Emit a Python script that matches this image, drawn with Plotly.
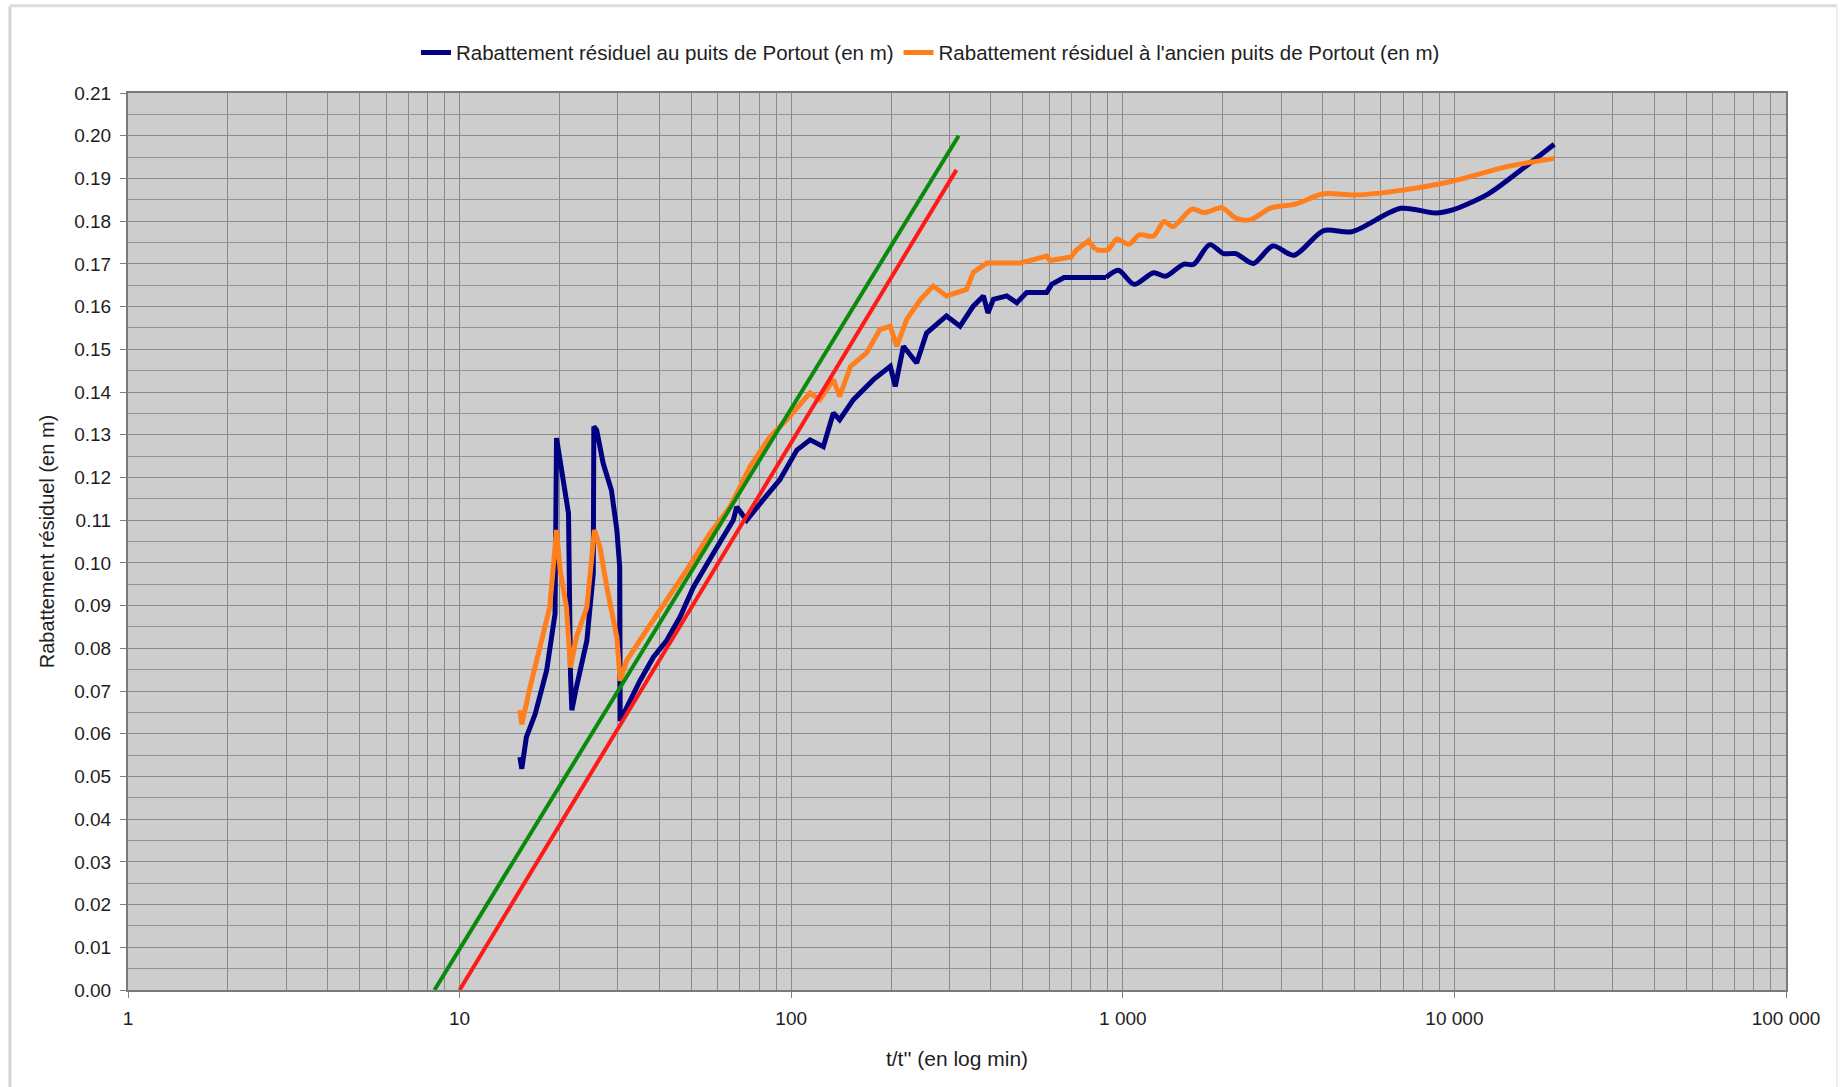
import plotly.graph_objects as go

# ---- data ----
blue_t = [15.2, 15.4, 15.9, 16.9, 18.3, 19.4, 19.6, 20.5, 21.3, 21.6, 21.8, 22.5, 24.2, 25.3, 25.4,
          25.9, 27.1, 28.7, 29.8, 30.4, 30.5, 31.9, 35.0, 38.4, 42.1, 46.2, 50.7, 58.2, 66.9, 68.5,
          73.4, 84.4, 92.5, 104, 114, 125, 134, 140, 154, 177, 199, 206, 218, 239, 256, 294, 323,
          354, 380, 392, 407, 447, 479, 513, 589, 610, 665, 890, 970, 1082, 1238, 1347, 1522, 1637,
          1827, 2014, 2193, 2476, 2833, 3280, 4032, 4900, 6887, 8780, 9930, 12660, 15770, 20000]
blue_v = [0.0545, 0.0518, 0.0592, 0.0646, 0.0748, 0.0881, 0.1292, 0.1202, 0.1116, 0.0740, 0.0655,
          0.0708, 0.0818, 0.0975, 0.1319, 0.1311, 0.1233, 0.1170, 0.1077, 0.0990, 0.0630, 0.0661,
          0.0724, 0.0779, 0.0818, 0.0873, 0.0943, 0.1022, 0.1100, 0.1131, 0.1100, 0.1158, 0.1195,
          0.1264, 0.1288, 0.1272, 0.1351, 0.1335, 0.1382, 0.1429, 0.1460, 0.1413, 0.1507, 0.1468,
          0.1538, 0.1578, 0.1554, 0.1601, 0.1625, 0.1585, 0.1617, 0.1625, 0.1609, 0.1633, 0.1633,
          0.1652, 0.1668, 0.1668, 0.1685, 0.1652, 0.1679, 0.1671, 0.1699, 0.1699, 0.1745, 0.1724,
          0.1724, 0.1701, 0.1742, 0.1720, 0.1778, 0.1775, 0.1830, 0.1819, 0.1827, 0.1864, 0.1918,
          0.1980]

orange_t = [15.2, 15.4, 16.3, 17.5, 18.7, 19.6, 20.1, 21.0, 21.6, 22.5, 24.2, 25.5, 26.5, 27.8,
            29.8, 30.5, 31.9, 36.6, 42.1, 48.4, 56.9, 65.4, 75.1, 86.3, 96.9, 114, 122, 134, 140,
            151, 169, 185, 199, 208, 223, 245, 268, 294, 338, 354, 389, 426, 490, 537, 589, 603,
            698, 726, 788, 828, 902, 958, 1043, 1122, 1238, 1331, 1415, 1617, 1762, 1990, 2193,
            2417, 2800, 3318, 4032, 5020, 6887, 9930, 14300, 20000]
orange_v = [0.0655, 0.0622, 0.0708, 0.0803, 0.0896, 0.1077, 0.0983, 0.0896, 0.0755, 0.0826,
            0.0896, 0.1077, 0.1037, 0.0943, 0.0826, 0.0724, 0.0771, 0.0842, 0.0912, 0.0983,
            0.1069, 0.1131, 0.1225, 0.1295, 0.1335, 0.1398, 0.1382, 0.1429, 0.1390, 0.1460,
            0.1492, 0.1546, 0.1554, 0.1507, 0.1570, 0.1616, 0.1648, 0.1625, 0.1640, 0.1680,
            0.1702, 0.1702, 0.1702, 0.1710, 0.1718, 0.1708, 0.1716, 0.1733, 0.1754, 0.1733,
            0.1733, 0.1758, 0.1746, 0.1768, 0.1765, 0.1799, 0.1787, 0.1828, 0.1820, 0.1831,
            0.1807, 0.1803, 0.1831, 0.1840, 0.1864, 0.1861, 0.1872, 0.1894, 0.1927, 0.1947]

green_t = [8.4, 320]
green_v = [0.0, 0.200]
red_t = [10.0, 315]
red_v = [0.0, 0.192]

x_tick_vals = [1, 10, 100, 1000, 10000, 100000]
x_tick_text = ["1", "10", "100", "1 000", "10 000", "100 000"]
x_minor_vals = [m * d for d in [1, 10, 100, 1000, 10000] for m in range(2, 10)]

name_blue = "Rabattement résiduel au puits de Portout (en m)"
name_orange = "Rabattement résiduel à l'ancien puits de Portout (en m)"

SMOOTH_FROM = 900  # the late part of both curves is drawn smoothed, as in the reference

FONT = "Liberation Sans, Arial, sans-serif"
TXT = "#1e1e1e"
BLUE = "#000080"
ORANGE = "#ff7f1f"


def split(ts, vs, cut):
    a = [(t, v) for t, v in zip(ts, vs) if t <= cut]
    b = [(t, v) for t, v in zip(ts, vs) if t >= a[-1][0]]
    return [p[0] for p in a], [p[1] for p in a], [p[0] for p in b], [p[1] for p in b]


fig = go.Figure()
for ts, vs, name, col, grp in [(blue_t, blue_v, name_blue, BLUE, "b"),
                               (orange_t, orange_v, name_orange, ORANGE, "o")]:
    t1, v1, t2, v2 = split(ts, vs, SMOOTH_FROM)
    fig.add_trace(go.Scatter(x=t1, y=v1, mode="lines", name=name, legendgroup=grp,
                             line=dict(color=col, width=5)))
    fig.add_trace(go.Scatter(x=t2, y=v2, mode="lines", name=name, legendgroup=grp,
                             showlegend=False,
                             line=dict(color=col, width=5, shape="spline", smoothing=0.8)))

fig.add_trace(go.Scatter(x=green_t, y=green_v, mode="lines", showlegend=False,
                         line=dict(color="#0a8a0a", width=4)))
fig.add_trace(go.Scatter(x=red_t, y=red_v, mode="lines", showlegend=False,
                         line=dict(color="#ff1a1a", width=4)))

fig.update_layout(
    width=1842, height=1087,
    margin=dict(l=128, r=56, t=93, b=97),
    paper_bgcolor="white",
    plot_bgcolor="#cdcdcd",
    font=dict(family=FONT, size=19, color=TXT),
    legend=dict(orientation="h", x=0.484, xanchor="center", y=1.045, yanchor="middle",
                font=dict(size=20.5, color=TXT), bgcolor="rgba(0,0,0,0)"),
    showlegend=True,
)
fig.update_xaxes(
    type="log", range=[0, 5],
    tickmode="array", tickvals=x_tick_vals, ticktext=x_tick_text,
    ticks="outside", ticklen=6, tickcolor="#808080", ticklabelstandoff=4,
    showgrid=True, gridcolor="#8a8a8a", gridwidth=1,
    minor=dict(tickmode="array", tickvals=x_minor_vals, showgrid=True,
               gridcolor="#8a8a8a", gridwidth=1, ticks=""),
    showline=True, linecolor="#7a7a7a", linewidth=2, mirror=True,
    zeroline=False,
    title=dict(text="t/t'' (en log min)", font=dict(size=21, color=TXT), standoff=24),
    tickfont=dict(size=19, color=TXT),
)
fig.update_yaxes(
    range=[0, 0.21], dtick=0.01, tickformat=".2f",
    ticks="outside", ticklen=6, tickcolor="#808080", ticklabelstandoff=5,
    showgrid=True, gridcolor="#8a8a8a", gridwidth=1,
    minor=dict(dtick=0.005, showgrid=True, gridcolor="#939393", gridwidth=1, ticks=""),
    showline=True, linecolor="#7a7a7a", linewidth=2, mirror=True,
    zeroline=False,
    title=dict(text="Rabattement résiduel (en m)", font=dict(size=20, color=TXT), standoff=14),
    tickfont=dict(size=19, color=TXT),
)

# light outer frame of the chart
fig.add_shape(type="line", xref="paper", yref="paper", x0=-0.0712, x1=-0.0712, y0=-0.2, y1=1.0973,
              line=dict(color="#d6d6d6", width=3))
fig.add_shape(type="line", xref="paper", yref="paper", x0=-0.0712, x1=1.0308, y0=1.0973, y1=1.0973,
              line=dict(color="#dcdcdc", width=3))
fig.add_shape(type="line", xref="paper", yref="paper", x0=1.0308, x1=1.0308, y0=-0.2, y1=1.0973,
              line=dict(color="#eeeeee", width=2))

fig.write_html("out.html", config={"displayModeBar": False},
               post_script="document.body.style.margin='0';document.body.style.overflow='hidden';")
